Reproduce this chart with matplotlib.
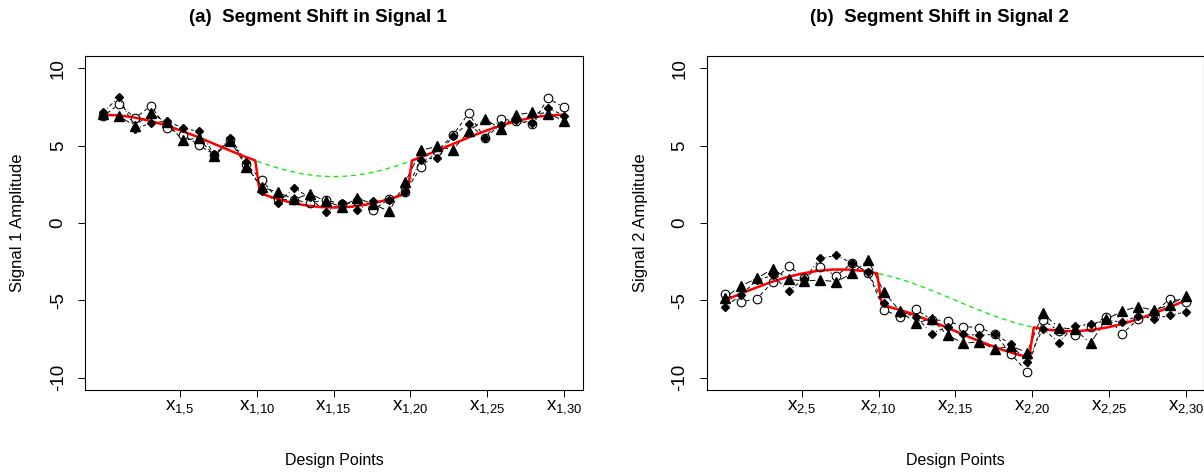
import numpy as np
import matplotlib
matplotlib.use("Agg")
import matplotlib.pyplot as plt
from matplotlib.collections import LineCollection

plt.rcParams['font.family'] = ['Liberation Sans', 'DejaVu Sans']

# design points t in [0, 1]
design_t = np.linspace(0, 1, 30)
tick_k = [5, 10, 15, 20, 25, 30]

# panel (a) observations: three replicate signals
a_circle = [6.9, 7.69, 6.78, 7.58, 6.14, 5.71, 5.06, 4.4, 5.4, 3.8,
            2.76, 1.52, 1.5, 1.3, 1.5, 1.2, 1.4, 0.87, 1.52, 2.0,
            3.62, 4.63, 5.67, 7.1, 5.5, 6.72, 6.6, 6.42, 8.07, 7.47]
a_diamond = [7.2, 8.12, 6.1, 6.46, 6.6, 6.14, 5.92, 4.45, 5.5, 3.95,
             2.05, 1.3, 2.27, 1.65, 0.7, 1.3, 0.87, 1.4, 1.47, 2.0,
             4.1, 4.2, 5.65, 6.42, 5.5, 6.35, 6.68, 6.46, 7.43, 6.95]
a_triangle = [7.05, 6.89, 6.3, 7.1, 6.5, 5.35, 5.49, 4.35, 5.3, 3.65,
              2.3, 2.0, 1.52, 1.9, 1.4, 1.05, 1.62, 1.2, 0.76, 2.65,
              4.7, 4.96, 4.74, 5.92, 6.74, 6.1, 7.0, 7.15, 7.06, 6.61]

# panel (b) observations
b_circle = [-4.57, -5.11, -4.89, -3.82, -2.78, -3.54, -2.83, -3.43, -2.57, -3.22,
            -5.62, -6.05, -5.58, -6.25, -6.33, -6.7, -6.76, -7.19, -8.48, -9.62,
            -6.27, -6.98, -7.26, -6.7, -6.05, -7.15, -6.23, -5.8, -4.89, -5.11]
b_diamond = [-5.41, -4.66, -3.7, -3.39, -4.4, -3.6, -2.29, -2.1, -2.6, -3.2,
             -5.15, -5.8, -6.05, -7.15, -6.7, -7.19, -7.26, -7.2, -7.85, -9.02,
             -6.83, -7.73, -6.66, -6.55, -6.3, -6.4, -6.01, -6.18, -5.97, -5.75]
b_triangle = [-4.83, -4.07, -3.58, -2.96, -3.64, -3.75, -3.69, -3.8, -3.26, -2.4,
              -4.46, -5.69, -6.48, -6.18, -7.26, -7.77, -7.69, -8.16, -7.95, -8.38,
              -5.84, -6.76, -6.87, -7.77, -6.23, -5.69, -5.41, -5.65, -5.28, -4.72]

# shifted mean curves (red) and unshifted mean over the shifted segment (green)
curve_t = np.array([0, 1, 2, 3, 4, 5, 6, 7, 8, 9, 9.9, 10.2, 11, 12, 13, 14, 15,
                    16, 17, 18, 19, 19.8, 20.1, 21, 22, 23, 24, 25, 26, 27, 28,
                    29, 30]) / 30
a_red = [7.00, 6.96, 6.83, 6.62, 6.34, 6.00, 5.62, 5.21, 4.79, 4.38, 4.04, 1.93,
         1.66, 1.38, 1.17, 1.04, 1.00, 1.04, 1.17, 1.38, 1.66, 1.93, 4.04,
         4.38, 4.79, 5.21, 5.62, 6.00, 6.34, 6.62, 6.83, 6.96, 7.00]
b_red = [-5.00, -4.58, -4.19, -3.82, -3.51, -3.27, -3.10, -3.01, -3.01, -3.10,
         -3.25, -5.31, -5.51, -5.82, -6.19, -6.58, -7.00, -7.42, -7.81, -8.18,
         -8.49, -8.69, -6.75, -6.90, -6.99, -6.99, -6.90, -6.73, -6.49, -6.18,
         -5.81, -5.42, -5.00]
green_t = np.arange(10, 21) / 30
a_green = [4.00, 3.66, 3.38, 3.17, 3.04, 3.00, 3.04, 3.17, 3.38, 3.66, 4.00]
b_green = [-3.27, -3.51, -3.82, -4.19, -4.58, -5.00, -5.42, -5.81, -6.18, -6.49, -6.73]


def gapped_line(ax, x, y, gap=5.0, **kw):
    # R type="b": segments between points, leaving a gap around each point
    pts = ax.transData.transform(np.column_stack([x, y]))
    segs = []
    for p, q in zip(pts[:-1], pts[1:]):
        d = q - p
        L = np.hypot(*d)
        if L > 2 * gap:
            u = d / L
            segs.append(ax.transData.inverted().transform(np.array([p + u * gap, q - u * gap])))
    ax.add_collection(LineCollection(segs, **kw))


def panel(ax, idx, circ, diam, tri, red, green):
    ax.set_xlim(-0.04, 1.04)
    ax.set_ylim(-10.8, 10.8)
    gapped_line(ax, design_t, circ, color='black', lw=0.7, linestyle=(0, (4, 3)), zorder=2)
    gapped_line(ax, design_t, diam, color='black', lw=0.7, linestyle=(0, (1, 2.5, 4, 2.5)), zorder=2)
    gapped_line(ax, design_t, tri, color='black', lw=0.7, linestyle=(0, (7, 3)), zorder=2)
    ax.plot(green_t, green, color='#00ee00', lw=0.9, linestyle=(0, (4, 3)), zorder=2)
    ax.plot(curve_t, red, color='#ff0000', lw=1.8, zorder=3)
    ax.plot(design_t, circ, 'o', mfc='none', mec='black', mew=0.8, ms=6.2, zorder=4)
    ax.plot(design_t, diam, 'D', color='black', ms=4.3, zorder=4)
    ax.plot(design_t, tri, '^', color='black', ms=6.8, zorder=4)

    ax.set_xticks([k / 30 for k in tick_k])
    ax.set_xticklabels([r'$\mathregular{x_{%d{,}%d}}$' % (idx, k) for k in tick_k], fontsize=13.5)
    ax.set_yticks([-10, -5, 0, 5, 10])
    ax.set_yticklabels(['-10', '-5', '0', '5', '10'], fontsize=13.5, rotation=90, va='center')
    ax.tick_params(axis='x', length=5, width=0.7, pad=1)
    ax.tick_params(axis='y', length=5, width=0.7, pad=8)
    for s in ax.spines.values():
        s.set_linewidth(0.8)


fig = plt.figure(figsize=(12.04, 4.72), dpi=100)
W, H = 1204, 472
ax1 = fig.add_axes([84.8 / W, 82 / H, 497.7 / W, 334 / H])
ax2 = fig.add_axes([706.6 / W, 82 / H, 497.7 / W, 334 / H])

panel(ax1, 1, a_circle, a_diamond, a_triangle, a_red, a_green)
panel(ax2, 2, b_circle, b_diamond, b_triangle, b_red, b_green)

for xc, yl in [(18, 'Signal 1 Amplitude'), (640, 'Signal 2 Amplitude')]:
    fig.text(xc / W, 1 - 223 / H, yl, rotation=90, ha='center', va='center', fontsize=12)
for xc in [334, 955]:
    fig.text(xc / W, 1 - 460 / H, 'Design Points', ha='center', va='center', fontsize=11.5)

fig.text(318 / W, 1 - 17.5 / H, '(a)  Segment Shift in Signal 1', ha='center', va='center',
         fontsize=13.5, fontweight='bold')
fig.text(939 / W, 1 - 17.5 / H, '(b)  Segment Shift in Signal 2', ha='center', va='center',
         fontsize=13.5, fontweight='bold')

fig.savefig('out.png', dpi=100)
